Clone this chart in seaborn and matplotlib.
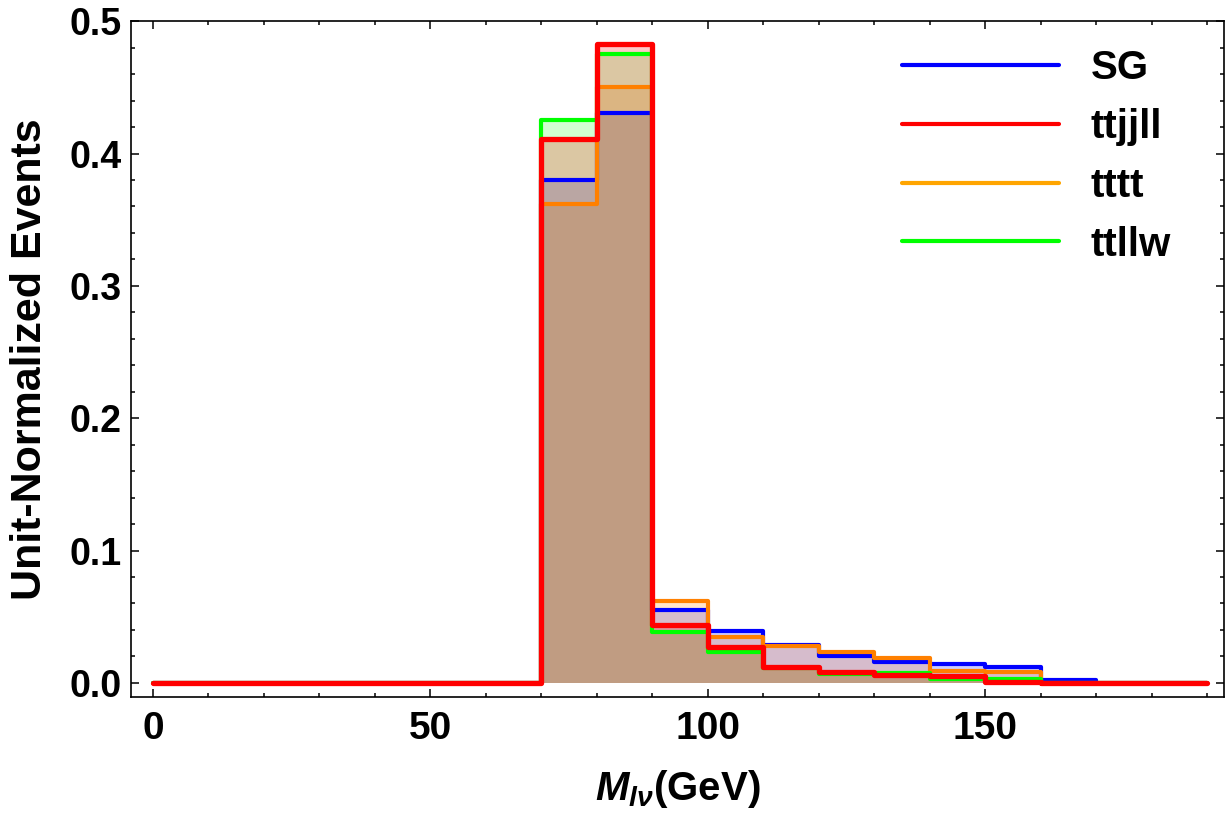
import numpy as np
import pandas as pd
import seaborn as sns
import matplotlib.pyplot as plt
from matplotlib.lines import Line2D
from matplotlib.ticker import MultipleLocator

# bin edges (GeV) and unit-normalized contents per bin
edges = list(range(0, 200, 10))
centers = [e + 5 for e in edges[:-1]]

sg = [0, 0, 0, 0, 0, 0, 0, 0.380, 0.431, 0.055, 0.039, 0.0285, 0.0206,
      0.016, 0.0143, 0.0117, 0.0025, 0, 0]
ttjjll = [0, 0, 0, 0, 0, 0, 0, 0.411, 0.483, 0.0438, 0.0274, 0.0123, 0.0085,
          0.006, 0.0053, 0.0005, 0, 0, 0]
tttt = [0, 0, 0, 0, 0, 0, 0, 0.362, 0.450, 0.062, 0.035, 0.028, 0.0236,
        0.019, 0.009, 0.0082, 0, 0, 0]
ttllw = [0, 0, 0, 0, 0, 0, 0, 0.425, 0.475, 0.0387, 0.0236, 0.011, 0.0065,
         0.0078, 0.0028, 0.0032, 0, 0, 0]

labels = ['SG', 'ttjjll', 'tttt', 'ttllw']
line_colors = {'SG': '#0000FF', 'ttjjll': '#FF0000', 'tttt': '#FF8000', 'ttllw': '#00FF00'}
legend_colors = {'SG': '#0000FF', 'ttjjll': '#FF0000', 'tttt': '#FFA500', 'ttllw': '#00FF00'}
fill_alpha = {'SG': 0.2, 'ttjjll': 0.22, 'tttt': 0.2, 'ttllw': 0.18}
series = {'SG': sg, 'ttjjll': ttjjll, 'tttt': tttt, 'ttllw': ttllw}
frames = {n: pd.DataFrame({'mlv': centers, 'w': v}) for n, v in series.items()}

sns.set_style('ticks')
plt.rcParams['font.family'] = ['Liberation Sans', 'DejaVu Sans']
plt.rcParams['font.weight'] = 'bold'
plt.rcParams['mathtext.fontset'] = 'custom'
plt.rcParams['mathtext.it'] = 'Liberation Sans:italic:bold'
plt.rcParams['mathtext.rm'] = 'Liberation Sans:bold'

fig, ax = plt.subplots(figsize=(12.3, 8.17), dpi=100)
fig.subplots_adjust(left=0.1065, right=0.995, top=0.974, bottom=0.147)


def hist(name, fill, lw=0.0):
    kw = dict(alpha=fill_alpha[name], linewidth=0) if fill else dict(linewidth=lw)
    sns.histplot(data=frames[name], x='mlv', weights='w', bins=edges,
                 element='step', fill=fill, color=line_colors[name], ax=ax, **kw)


# fills first, then the edges; ttjjll drawn last on top
for name in ['SG', 'tttt', 'ttllw']:
    hist(name, True)
for name in ['SG', 'tttt', 'ttllw']:
    hist(name, False, 3.0)
hist('ttjjll', True)
hist('ttjjll', False, 3.8)

ax.set_xlim(-3.96, 193)
ax.set_ylim(-0.0106, 0.5)
ax.xaxis.set_major_locator(MultipleLocator(50))
ax.xaxis.set_minor_locator(MultipleLocator(10))
ax.yaxis.set_major_locator(MultipleLocator(0.1))
ax.yaxis.set_minor_locator(MultipleLocator(0.02))
ax.yaxis.set_major_formatter(plt.FormatStrFormatter('%.1f'))
ax.tick_params(which='both', direction='in', top=True, right=True,
               labelsize=28, width=1.1, colors='black')
ax.tick_params(which='major', length=6, pad=10)
ax.tick_params(axis='y', which='major', pad=7, labelsize=27)
ax.tick_params(which='minor', length=3)
for sp in ax.spines.values():
    sp.set_linewidth(1.2)
    sp.set_color('black')

ax.set_xlabel(r'$M_{l\nu}$(GeV)', fontsize=29, fontweight='bold',
              labelpad=15, color='black')
ax.set_ylabel('Unit-Normalized Events', fontsize=31, fontweight='bold',
              labelpad=14, color='black')

handles = [Line2D([], [], color=legend_colors[n], lw=3) for n in labels]
leg = ax.legend(handles, labels, loc='upper right', bbox_to_anchor=(0.985, 1.013),
                frameon=False, fontsize=29, handlelength=3.9, handletextpad=0.8,
                labelspacing=0.52)
for t in leg.get_texts():
    t.set_fontweight('bold')
    t.set_color('black')

fig.savefig('out.png', dpi=100)
